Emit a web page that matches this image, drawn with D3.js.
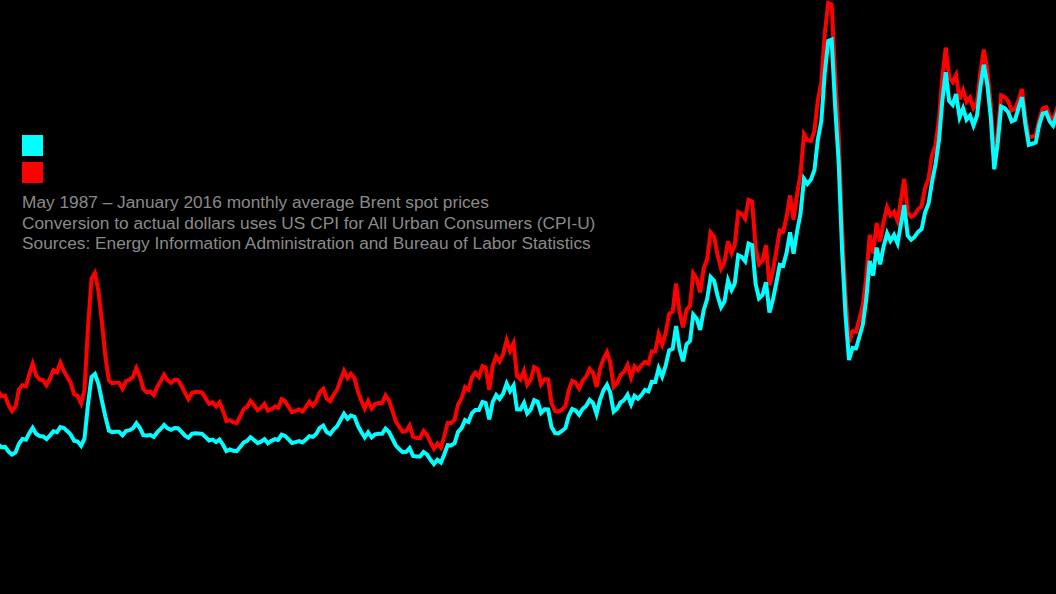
<!DOCTYPE html>
<html>
<head>
<meta charset="utf-8">
<script src="https://cdn.jsdelivr.net/npm/d3@7"></script>
<style>
  html, body { margin: 0; padding: 0; background: #000; overflow: hidden; }
  svg { display: block; }
  .note { font-family: "Liberation Sans", Arial, sans-serif; font-size: 17.3px; fill: #8a8a8a; }
  .legend-label { font-family: "Liberation Sans", Arial, sans-serif; font-size: 17.3px; fill: #000; }
</style>
</head>
<body>
<div id="chart"></div>
<script>
// Brent spot, monthly average, May 1987 .. January 2016 (US$ per barrel)
const startMonth = new Date(1987, 4, 1);
const endMonth = new Date(2016, 0, 1);

const nominal = [
  18.58, 18.86, 19.86, 18.98, 18.31, 18.76, 18.67, 17.42,
  16.75, 15.72, 14.73, 16.6, 16.31, 15.49, 14.71, 14.79, 13.44, 12.57, 13.19, 15.68,
  17.11, 16.9, 18.7, 20.32, 18.59, 17.95, 17.83, 17.05, 18.13, 19.34, 19.05, 20.52,
  20.26, 19.31, 18.41, 16.56, 16.33, 15.09, 17.19, 27.17, 35.04, 35.9, 33.06, 28.23,
  23.56, 19.54, 19.08, 19.18, 19.19, 18.17, 19.41, 19.64, 20.17, 21.63, 20.25, 18.2,
  18.13, 18.22, 17.67, 18.99, 19.99, 21.16, 20.18, 19.72, 20.27, 20.2, 19.16, 18.05,
  17.44, 18.56, 18.72, 18.69, 18.58, 17.62, 16.66, 16.9, 16.18, 16.91, 15.42, 13.57,
  14.04, 13.67, 13.54, 14.73, 16.07, 16.53, 17.59, 16.81, 15.9, 16.31, 17.04, 15.83,
  16.55, 17.02, 16.81, 18.36, 17.98, 16.95, 15.93, 16.18, 16.47, 16.09, 16.92, 17.91,
  17.69, 18.59, 20.29, 20.94, 19.08, 18.51, 19.83, 20.74, 22.65, 24.39, 22.96, 23.87,
  23.53, 20.86, 19.17, 17.54, 19.01, 17.55, 18.41, 18.61, 18.6, 20.09, 19.11, 17.15,
  15.18, 14.11, 13.24, 13.37, 14.43, 12.15, 12.0, 12.0, 13.33, 12.62, 11.05, 9.82,
  11.08, 10.27, 12.51, 15.29, 15.23, 15.86, 19.08, 20.22, 22.54, 22.01, 24.59, 25.5,
  25.51, 27.78, 27.49, 22.76, 27.74, 29.8, 28.68, 30.2, 33.14, 30.96, 32.55, 25.66,
  25.62, 27.5, 24.5, 25.66, 28.31, 27.85, 24.61, 25.68, 25.62, 20.54, 18.8, 18.71,
  19.42, 20.28, 23.7, 25.73, 25.35, 24.08, 25.74, 26.65, 28.4, 27.54, 24.34, 28.33,
  31.18, 32.77, 30.61, 25.0, 25.86, 27.65, 28.35, 29.89, 27.11, 29.61, 28.75, 29.81,
  31.28, 30.86, 33.63, 33.59, 37.57, 35.18, 38.22, 42.74, 43.2, 49.78, 43.11, 39.6,
  44.51, 45.48, 53.1, 51.88, 48.65, 54.35, 57.52, 63.98, 62.91, 58.54, 55.24, 56.86,
  62.99, 60.21, 62.06, 70.26, 69.78, 68.56, 73.67, 73.23, 61.96, 57.81, 58.76, 62.47,
  53.68, 57.56, 62.05, 67.49, 67.21, 71.05, 76.93, 70.76, 77.17, 82.34, 92.41, 90.93,
  92.18, 94.99, 103.64, 109.07, 122.8, 132.32, 132.72, 113.24, 97.23, 71.58, 52.45, 39.95,
  43.44, 43.32, 46.54, 50.18, 57.3, 68.61, 64.44, 72.51, 67.65, 72.77, 76.66, 74.46,
  76.17, 73.75, 78.83, 84.82, 75.95, 74.76, 75.58, 77.04, 77.84, 82.67, 85.28, 91.45,
  96.52, 103.72, 114.64, 123.26, 114.99, 113.83, 116.97, 110.22, 112.83, 109.55, 110.77, 107.87,
  110.69, 119.33, 125.45, 119.75, 110.34, 95.16, 102.62, 113.36, 112.86, 111.71, 109.06, 109.49,
  112.96, 116.05, 108.47, 102.25, 102.56, 102.92, 107.93, 111.28, 111.6, 109.08, 107.79, 110.76,
  108.12, 108.9, 107.48, 107.76, 109.54, 111.8, 106.77, 101.61, 97.09, 87.43, 79.44, 62.34,
  47.76, 58.1, 55.89, 59.52, 64.08, 61.48, 56.56, 46.52, 47.62, 48.43, 44.27, 38.01,
  30.7,
];

// same months, in January 2016 dollars
const real = [
  38.7, 39.3, 41.4, 39.6, 38.2, 39.1, 38.9, 36.3,
  33.6, 31.5, 29.5, 33.2, 32.7, 31.0, 29.5, 29.6, 26.9, 25.2, 26.4, 31.4,
  32.7, 32.3, 35.7, 38.8, 35.5, 34.3, 34.1, 32.6, 34.6, 37.0, 36.4, 39.2,
  36.7, 35.0, 33.4, 30.0, 29.6, 27.4, 31.2, 49.3, 63.5, 65.1, 59.9, 51.2,
  41.0, 34.0, 33.2, 33.4, 33.4, 31.6, 33.8, 34.2, 35.1, 37.6, 35.2, 31.6,
  30.6, 30.8, 29.8, 32.1, 33.8, 35.7, 34.1, 33.3, 34.2, 34.1, 32.4, 30.5,
  28.6, 30.4, 30.7, 30.7, 30.5, 28.9, 27.3, 27.7, 26.5, 27.7, 25.3, 22.3,
  22.5, 21.9, 21.7, 23.6, 25.7, 26.4, 28.1, 26.9, 25.4, 26.1, 27.2, 25.3,
  25.7, 26.5, 26.1, 28.6, 28.0, 26.4, 24.8, 25.2, 25.6, 25.0, 26.3, 27.9,
  26.7, 28.1, 30.6, 31.6, 28.8, 28.0, 29.9, 31.3, 34.2, 36.8, 34.7, 36.0,
  34.7, 30.8, 28.3, 25.9, 28.1, 25.9, 27.2, 27.5, 27.5, 29.7, 28.2, 25.3,
  22.1, 20.5, 19.2, 19.4, 21.0, 17.7, 17.4, 17.4, 19.4, 18.3, 16.1, 14.3,
  15.8, 14.6, 17.8, 21.7, 21.7, 22.6, 27.1, 28.8, 32.1, 31.3, 35.0, 36.3,
  35.1, 38.2, 37.8, 31.3, 38.2, 41.0, 39.5, 41.6, 45.6, 42.6, 44.8, 35.3,
  34.3, 36.8, 32.8, 34.3, 37.9, 37.3, 32.9, 34.4, 34.3, 27.5, 25.2, 25.0,
  25.6, 26.7, 31.2, 33.9, 33.4, 31.7, 33.9, 35.1, 37.4, 36.3, 32.1, 37.3,
  40.2, 42.2, 39.4, 32.2, 33.3, 35.6, 36.5, 38.5, 34.9, 38.1, 37.0, 38.4,
  39.4, 38.9, 42.4, 42.4, 47.4, 44.4, 47.7, 53.3, 53.9, 62.1, 53.8, 49.4,
  54.5, 55.7, 65.0, 63.5, 59.5, 66.5, 69.1, 76.9, 75.6, 70.4, 66.4, 68.3,
  74.3, 71.0, 73.2, 82.8, 82.3, 80.8, 86.3, 85.8, 72.6, 67.7, 68.8, 73.2,
  61.6, 66.0, 71.2, 77.4, 77.1, 81.5, 87.6, 80.6, 87.9, 93.8, 105.3, 103.6,
  103.4, 106.3, 114.9, 120.3, 134.3, 143.3, 142.9, 122.4, 105.3, 78.3, 58.5, 45.0,
  48.2, 48.1, 51.7, 55.7, 63.6, 76.2, 70.8, 79.6, 74.3, 79.9, 84.2, 81.8,
  82.9, 80.3, 85.8, 92.4, 82.7, 81.4, 82.0, 83.6, 84.5, 89.7, 92.5, 99.2,
  102.1, 109.7, 121.3, 130.4, 121.7, 120.4, 122.5, 115.4, 118.1, 114.7, 116.0, 112.9,
  114.6, 123.5, 129.8, 123.9, 114.2, 98.5, 105.6, 116.6, 116.1, 114.9, 112.2, 112.7,
  115.2, 118.4, 110.6, 104.3, 104.6, 105.0, 109.4, 112.8, 113.2, 110.6, 109.3, 112.3,
  108.3, 109.1, 107.7, 108.0, 109.8, 112.0, 107.0, 101.8, 97.3, 87.6, 79.6, 62.9,
  48.4, 58.7, 56.2, 59.7, 64.0, 61.2, 56.3, 46.3, 47.5, 48.3, 44.3, 38.1,
  30.7,
];

const seriesNames = ["real", "nominal"];
const seriesColors = { nominal: "#00ffff", real: "#ff0000" };
const legendLabels = ["Nominal price", "Real price (January 2016 dollars)"];
const notes = [
  "May 1987 \u2013 January 2016 monthly average Brent spot prices",
  "Conversion to actual dollars uses US CPI for All Urban Consumers (CPI-U)",
  "Sources: Energy Information Administration and Bureau of Labor Statistics",
];

const width = 1056;
const height = 594;
const strokeWidth = 4;

const months = d3.timeMonth.range(startMonth, d3.timeMonth.offset(endMonth, 1));
const rows = months.map((m, i) => ({ date: m, nominal: nominal[i], real: real[i] }));

// plot area is wider than the window, only part of it is in view
const x = d3.scaleTime().domain([startMonth, endMonth]).range([-47, 1143]);
const y = d3.scaleLinear().domain([0, 140]).range([498, 498 - 140 * 3.454]);

const svg = d3
  .select("#chart")
  .append("svg")
  .attr("width", width)
  .attr("height", height)
  .attr("viewBox", [0, 0, width, height]);

svg.append("rect").attr("width", width).attr("height", height).attr("fill", "#000");

const gLines = svg.append("g").attr("class", "lines-g");
seriesNames.forEach((key) => {
  const line = d3
    .line()
    .x((d) => x(d.date))
    .y((d) => y(d[key]));
  gLines
    .append("path")
    .datum(rows)
    .attr("class", `line-path ${key}`)
    .attr("fill", "none")
    .attr("stroke", seriesColors[key])
    .attr("stroke-width", strokeWidth)
    .attr("stroke-linejoin", "miter")
    .attr("d", line);
});

const legend = svg.append("g").attr("class", "legend");
["nominal", "real"].forEach((key, i) => {
  legend
    .append("rect")
    .attr("x", 22)
    .attr("y", 135 + i * 27)
    .attr("width", 21)
    .attr("height", 21)
    .attr("fill", seriesColors[key]);
  legend
    .append("text")
    .attr("class", "legend-label")
    .attr("x", 52)
    .attr("y", 151 + i * 27)
    .text(legendLabels[i]);
});

svg
  .append("g")
  .attr("class", "notes")
  .selectAll("text")
  .data(notes)
  .join("text")
  .attr("class", "note")
  .attr("x", 22)
  .attr("y", (d, i) => 208 + i * 20.5)
  .text((d) => d);
</script>
</body>
</html>
